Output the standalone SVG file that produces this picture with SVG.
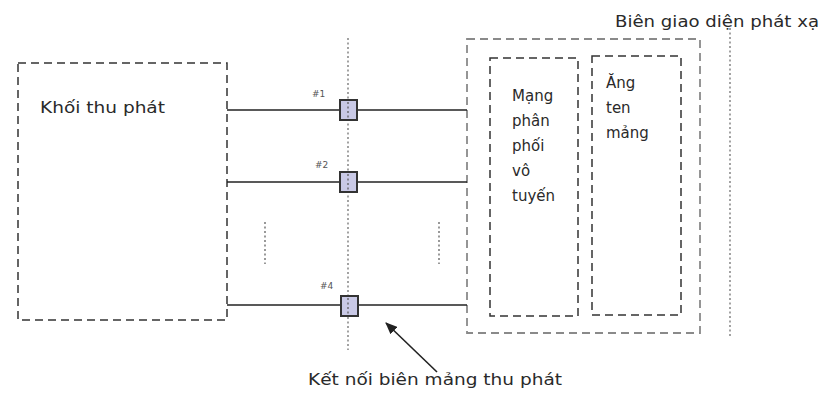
<svg xmlns="http://www.w3.org/2000/svg" width="822" height="398" viewBox="0 0 822 398">
<style>
text{font-family:"DejaVu Sans","Liberation Sans",sans-serif;fill:#2a2a2a}
.lbl{font-size:15px}
.sm{font-size:9px;fill:#555}
.dash{fill:none;stroke:#333;stroke-width:1.5;stroke-dasharray:8 5}
.dashl{fill:none;stroke:#8a8a8a;stroke-width:1.8;stroke-dasharray:8 5}
.dot{fill:none;stroke:#666;stroke-width:1.2;stroke-dasharray:2 2.5}
.wire{stroke:#222;stroke-width:1.6;fill:none}
.port{fill:#c9c9e6;stroke:#333;stroke-width:2}
.tick{stroke:#555;stroke-width:1.2;stroke-dasharray:2 2.5}
</style>
<defs>
<marker id="ah" markerWidth="12" markerHeight="10" refX="11" refY="5" orient="auto" markerUnits="userSpaceOnUse">
<path d="M0,0 L12,5 L0,10 Z" fill="#222"/>
</marker>
</defs>
<g id="boundary">
<line class="dot" x1="730" y1="28" x2="730" y2="336"/>
<text class="lbl" x="615" y="27" textLength="204" lengthAdjust="spacingAndGlyphs">Biên giao diện phát xạ</text>
</g>
<g id="transceiver">
<rect class="dash" x="18" y="63" width="209" height="257"/>
<text class="lbl" x="40" y="113" textLength="125" lengthAdjust="spacingAndGlyphs">Khối thu phát</text>
</g>
<g id="outer">
<rect class="dashl" x="467" y="39" width="233" height="294"/>
</g>
<g id="feed">
<rect class="dash" x="490" y="58" width="88" height="258"/>
<text class="lbl" x="512" y="101">Mạng</text>
<text class="lbl" x="512" y="126">phân</text>
<text class="lbl" x="512" y="151">phối</text>
<text class="lbl" x="512" y="176">vô</text>
<text class="lbl" x="512" y="201">tuyến</text>
</g>
<g id="antenna">
<rect class="dash" x="592" y="56" width="89" height="259"/>
<text class="lbl" x="606" y="88">Ăng</text>
<text class="lbl" x="606" y="113">ten</text>
<text class="lbl" x="606" y="138">mảng</text>
</g>
<g id="connectors">
<line class="dot" x1="348" y1="38" x2="348" y2="350"/>
<line class="wire" x1="227" y1="110" x2="467" y2="110"/>
<line class="wire" x1="227" y1="182" x2="467" y2="182"/>
<line class="wire" x1="227" y1="305" x2="467" y2="305"/>
<line class="tick" x1="265" y1="222" x2="265" y2="264"/>
<line class="tick" x1="439" y1="222" x2="439" y2="264"/>
<line class="wire" x1="437" y1="372" x2="386" y2="323" marker-end="url(#ah)"/>
</g>
<g id="port1">
<rect class="port" x="340" y="100" width="17" height="20"/>
<line class="tick" x1="348" y1="102" x2="348" y2="119"/>
<text class="sm" x="312" y="97">#1</text>
</g>
<g id="port2">
<rect class="port" x="340" y="172" width="17" height="20"/>
<line class="tick" x1="348" y1="174" x2="348" y2="191"/>
<text class="sm" x="315" y="168">#2</text>
</g>
<g id="port4">
<rect class="port" x="341" y="296" width="17" height="20"/>
<line class="tick" x1="348" y1="298" x2="348" y2="315"/>
<text class="sm" x="320" y="289">#4</text>
</g>
<g id="caption">
<text class="lbl" x="308" y="385" textLength="254" lengthAdjust="spacingAndGlyphs">Kết nối biên mảng thu phát</text>
</g>
</svg>
